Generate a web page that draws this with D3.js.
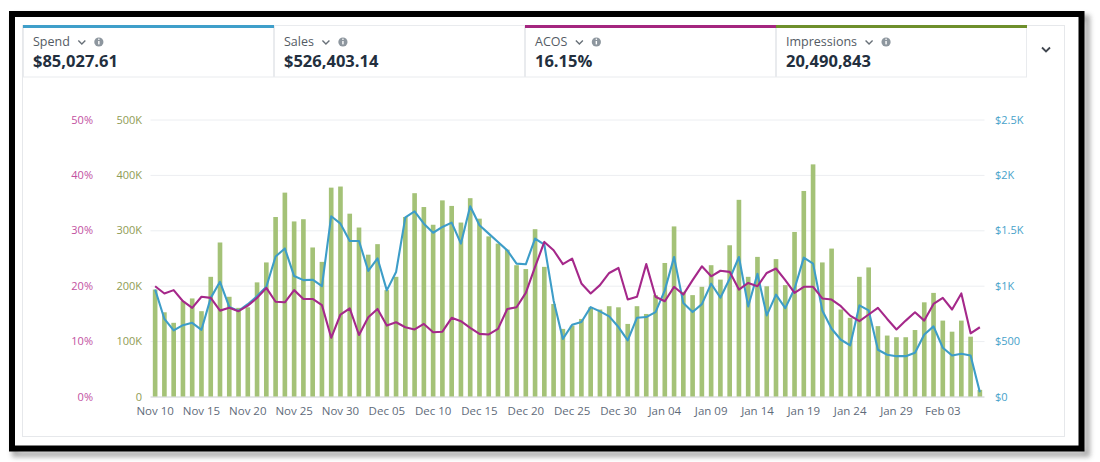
<!DOCTYPE html>
<html>
<head>
<meta charset="utf-8">
<script src="https://cdn.jsdelivr.net/npm/d3@7/dist/d3.min.js"></script>
<style>
  html, body { margin: 0; padding: 0; background: #ffffff; }
  svg { display: block; font-family: "Open Sans", "Noto Sans", sans-serif; }
</style>
</head>
<body>
<svg id="chart" width="1100" height="462"></svg>
<script>
// ---------------- DATA ----------------
const dayCount = 90;            // Nov 10 .. Feb 07

// Impressions per day (bars, left olive axis)
const impressions = [
  193000,152000,133000,172000,177000,154000,216000,278000,180000,160000,
  161000,206000,242000,324000,368000,316000,320000,269000,243000,377000,
  379000,330000,305000,256000,275000,192000,216000,324000,367000,342000,
  310000,354000,344000,314000,358000,321000,289000,276000,265000,237000,
  230000,302000,234000,167000,122000,128000,140000,161000,157000,163000,
  161000,131000,163000,149000,183000,241000,307000,189000,183000,198000,
  237000,211000,273000,355000,216000,252000,199000,248000,201000,297000,
  371000,419000,242000,267000,157000,142000,216000,233000,127000,110000,
  107000,107000,120000,170000,187000,137000,117000,137000,108000,12000
];

// Spend per day (blue line, right axis, $)
const spend = [
  966,700,596,644,665,602,890,1035,809,772,
  833,906,990,1264,1336,1087,1050,1054,996,1627,
  1560,1404,1404,1133,1247,958,1123,1617,1670,1560,
  1478,1530,1569,1380,1717,1545,1470,1395,1319,1199,
  1193,1425,1370,867,520,648,672,807,768,723,
  627,506,711,717,762,958,1259,843,762,834,
  1018,892,1063,1259,813,1108,732,919,798,973,
  1253,1199,777,611,512,461,822,777,422,377,
  364,364,395,560,633,440,370,386,370,39
];

// ACOS per day (magenta line, far-left axis, %)
const acos = [
  19.9,18.6,19.2,17.2,16.0,18.0,17.8,15.5,16.0,15.4,
  16.4,17.8,19.6,17.1,17.0,19.2,17.6,17.6,16.5,10.6,
  14.8,15.9,11.1,14.3,15.8,12.8,13.4,12.5,12.1,13.1,
  11.6,11.7,14.2,13.6,12.4,11.3,11.2,12.2,15.8,16.1,
  18.7,23.4,27.9,26.4,23.9,24.9,20.4,18.6,20.1,22.3,
  23.2,17.5,18.0,23.9,18.0,17.2,19.8,18.4,21.0,23.5,
  21.7,22.7,22.5,19.3,20.5,19.9,22.3,23.1,21.0,18.7,
  19.8,19.8,17.7,17.5,16.3,14.6,13.6,14.8,16.0,14.0,
  12.1,13.7,15.2,13.7,16.7,17.8,15.7,18.6,11.4,12.5
];

// X tick labels (every 5 days)
const xTickIndex = [0,5,10,15,20,25,30,35,40,45,50,55,60,65,70,75,80,85];
const xTickLabels = ["Nov 10","Nov 15","Nov 20","Nov 25","Nov 30","Dec 05","Dec 10","Dec 15",
  "Dec 20","Dec 25","Dec 30","Jan 04","Jan 09","Jan 14","Jan 19","Jan 24","Jan 29","Feb 03"];

// Axis tick values / labels
const acosTicks = [0,10,20,30,40,50];
const acosTickLabels = ["0%","10%","20%","30%","40%","50%"];
const impTicks = [0,100000,200000,300000,400000,500000];
const impTickLabels = ["0","100K","200K","300K","400K","500K"];
const spendTicks = [0,500,1000,1500,2000,2500];
const spendTickLabels = ["$0","$500","$1K","$1.5K","$2K","$2.5K"];

// Summary cards
const cardNames = ["Spend","Sales","ACOS","Impressions"];
const cardValues = ["$85,027.61","$526,403.14","16.15%","20,490,843"];
const cardAccent = ["#3f9fca", null, "#a4267f", "#6e8f2b"];

// ---------------- DRAW ----------------
const svg = d3.select("#chart");
const defs = svg.append("defs");
const f = defs.append("filter").attr("id","shadow").attr("x","-5%").attr("y","-5%").attr("width","110%").attr("height","115%");
f.append("feGaussianBlur").attr("stdDeviation", 2.5);

// outer frame shadow + black frame
svg.append("rect").attr("x",15).attr("y",18).attr("width",1072).attr("height",436)
  .attr("fill","none").attr("stroke","#8a8a8a").attr("stroke-width",6).attr("filter","url(#shadow)").attr("opacity",0.7);
svg.append("rect").attr("x",12).attr("y",14).attr("width",1069.5).attr("height",434.5)
  .attr("fill","#ffffff").attr("stroke","#000000").attr("stroke-width",6);

// inner container
svg.append("rect").attr("x",22.5).attr("y",25.5).attr("width",1042).attr("height",411)
  .attr("fill","#ffffff").attr("stroke","#e6e8eb").attr("stroke-width",1);

// cards
const cardX = d3.scaleBand().domain(d3.range(cardNames.length)).range([23,1027]);
const cards = svg.append("g");
cardNames.forEach((name,i) => {
  const x0 = cardX(i), w = cardX.bandwidth();
  const g = cards.append("g").attr("transform",`translate(${x0},0)`);
  g.append("rect").attr("x",0.5).attr("y",25.5).attr("width",w-1).attr("height",51.5)
    .attr("fill","#ffffff").attr("stroke","#e9ebee");
  if (cardAccent[i]) {
    g.append("rect").attr("x",0).attr("y",25).attr("width",w).attr("height",3).attr("fill",cardAccent[i]);
  }
  const t = g.append("text").attr("x",10).attr("y",46).attr("font-size",12.5).attr("fill","#545b64").text(name);
  const tw = t.node().getComputedTextLength();
  // chevron
  const cx = 10 + tw + 12;
  g.append("path").attr("d",`M${cx-3.5},${40.5} L${cx},${44} L${cx+3.5},${40.5}`)
    .attr("fill","none").attr("stroke","#687078").attr("stroke-width",1.4);
  // info icon
  const ix = cx + 17;
  g.append("circle").attr("cx",ix).attr("cy",42).attr("r",4.6).attr("fill","#8d969e");
  g.append("rect").attr("x",ix-0.7).attr("y",41).attr("width",1.4).attr("height",3.4).attr("fill","#fff");
  g.append("circle").attr("cx",ix).attr("cy",39.3).attr("r",0.8).attr("fill","#fff");
  g.append("text").attr("x",10).attr("y",67).attr("font-size",16.5).attr("font-weight",700)
    .attr("fill","#232f3e").text(cardValues[i]);
});
// right chevron
svg.append("path").attr("d","M1042,47.5 L1046,51.5 L1050,47.5")
  .attr("fill","none").attr("stroke","#414750").attr("stroke-width",1.8);

// scales
const x = d3.scaleBand().domain(d3.range(dayCount)).range([150.5,984.5]).paddingInner(0.5).paddingOuter(0.25);
const yImp = d3.scaleLinear().domain([0,500000]).range([396.5,119.5]);
const ySpend = d3.scaleLinear().domain([0,2500]).range([396.5,119.5]);
const yAcos = d3.scaleLinear().domain([0,50]).range([396.5,119.5]);
const cxOf = i => x(i) + x.bandwidth()/2;

// gridlines
const grid = svg.append("g").attr("transform","translate(150.5,0)")
  .call(d3.axisLeft(yImp).tickValues(impTicks).tickSize(-834).tickFormat(""));
grid.select(".domain").remove();
grid.selectAll(".tick line").attr("stroke", d => d === 0 ? "#c9ccd1" : "#eceef1").attr("stroke-width",1);

// axes
function styleAxis(g, color, size) {
  g.select(".domain").remove();
  g.selectAll(".tick line").remove();
  g.selectAll("text").attr("fill",color).attr("font-size",size).attr("font-family","'Open Sans', sans-serif");
}
svg.append("g").attr("transform","translate(93,0)")
  .call(d3.axisLeft(yAcos).tickValues(acosTicks).tickSize(0).tickPadding(0).tickFormat((d,i)=>acosTickLabels[i]))
  .call(g => styleAxis(g,"#c2519f",11));
svg.append("g").attr("transform","translate(142,0)")
  .call(d3.axisLeft(yImp).tickValues(impTicks).tickSize(0).tickPadding(0).tickFormat((d,i)=>impTickLabels[i]))
  .call(g => styleAxis(g,"#8f9c55",11));
svg.append("g").attr("transform","translate(995,0)")
  .call(d3.axisRight(ySpend).tickValues(spendTicks).tickSize(0).tickPadding(0).tickFormat((d,i)=>spendTickLabels[i]))
  .call(g => styleAxis(g,"#47a2ca",11));
svg.append("g").attr("transform","translate(0,397)")
  .call(d3.axisBottom(x).tickValues(xTickIndex).tickSize(0).tickPadding(10).tickFormat((d,i)=>xTickLabels[i]))
  .call(g => styleAxis(g,"#5f6b7a",11.5));

// bars
svg.append("g").selectAll("rect").data(impressions).join("rect")
  .attr("x",(d,i)=>x(i)).attr("width",x.bandwidth())
  .attr("y",d=>yImp(d)).attr("height",d=>yImp(0)-yImp(d))
  .attr("fill","#a4c277");

// lines
const spendLine = d3.line().x((d,i)=>cxOf(i)).y(d=>ySpend(d));
const acosLine = d3.line().x((d,i)=>cxOf(i)).y(d=>yAcos(d));
svg.append("path").datum(spend).attr("d",spendLine).attr("fill","none")
  .attr("stroke","#3d9dc8").attr("stroke-width",2.1).attr("stroke-linejoin","round");
svg.append("path").datum(acos).attr("d",acosLine).attr("fill","none")
  .attr("stroke","#a5288a").attr("stroke-width",2.1).attr("stroke-linejoin","round");
</script>
</body>
</html>
